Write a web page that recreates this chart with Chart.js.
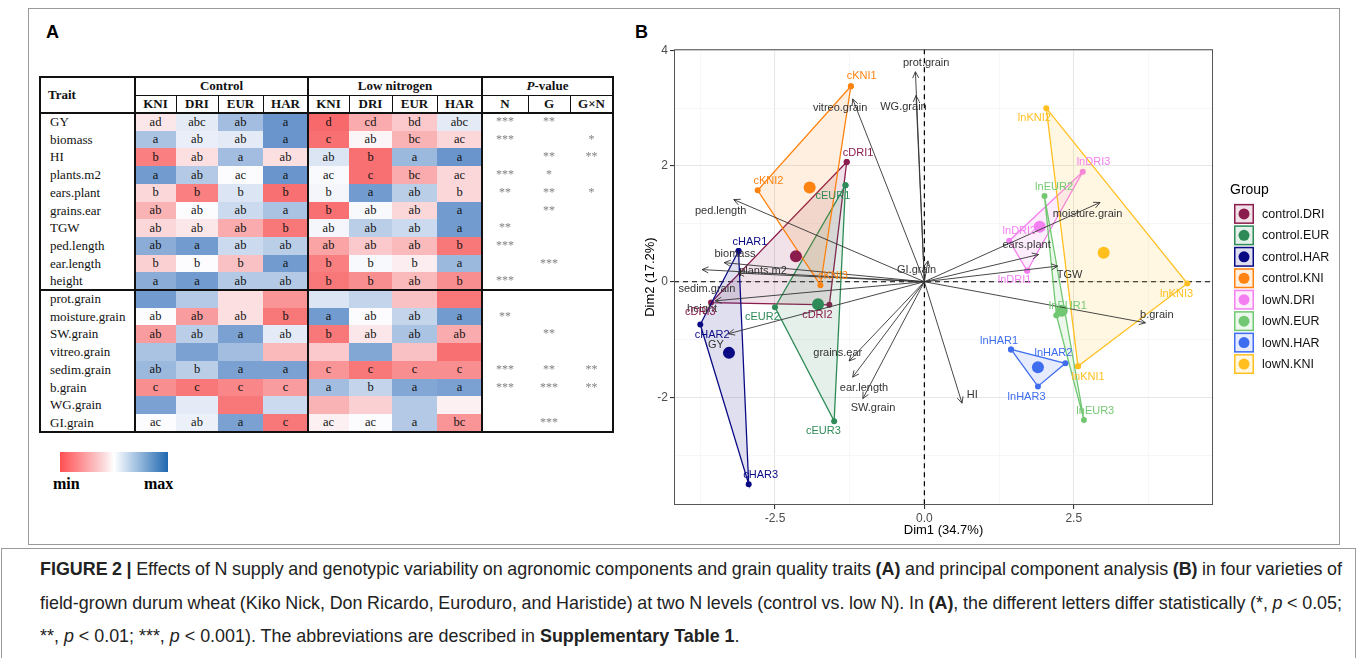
<!DOCTYPE html>
<html><head><meta charset="utf-8">
<script src="https://cdn.jsdelivr.net/npm/chart.js@4.4.1/dist/chart.umd.min.js"></script>
<style>
body{margin:0;width:1360px;height:658px;position:relative;background:#fff;overflow:hidden;font-family:"Liberation Sans",Arial,sans-serif}
.abs{position:absolute}
#frame{position:absolute;left:28px;top:8px;width:1312px;height:537px;border:1px solid #9a9a9a;box-sizing:border-box}
#capbox{position:absolute;left:1px;top:548px;width:1355px;height:115px;border:1px solid #9a9a9a;border-bottom:none;box-sizing:border-box}
.plabel{position:absolute;font:bold 18px "Liberation Sans",Arial,sans-serif;color:#000}
#tbl{position:absolute;left:0;top:0;font-family:"Liberation Serif","Times New Roman",serif;color:#111}
.cell{position:absolute;display:flex;align-items:center;justify-content:center;font-size:12.5px}
.hd{font-weight:bold;font-size:13px}
.tr{position:absolute;font-size:13px;line-height:17.7px}
.ln{position:absolute;background:#111}
.star{color:#808080;font-size:12px;will-change:transform}
#cap{position:absolute;left:40px;top:557px;width:1302px;font-size:17.9px;color:#222}
#cap div{height:33.5px;line-height:24px;white-space:nowrap}
#cap span.j{display:inline-block;white-space:nowrap}
#pca{position:absolute;left:630px;top:40px}
</style></head><body>
<div id="frame"></div>
<div id="capbox"></div>
<div class="plabel" style="left:46px;top:22px">A</div>
<div class="plabel" style="left:635px;top:22px">B</div>
<div id="tbl"></div>
<div class="abs" style="left:60px;top:452px;width:108px;height:20px;background:linear-gradient(to right,#ff4f52 0%,#fbd0d2 38%,#ffffff 50%,#c9dcef 62%,#2068b0 100%)"></div>
<div class="abs" style="left:53px;top:475px;font:bold 16px 'Liberation Serif',serif">min</div>
<div class="abs" style="left:144px;top:475px;font:bold 16px 'Liberation Serif',serif">max</div>
<canvas id="pca" width="730" height="505"></canvas>
<div id="cap">
<div><span class="j"><b>FIGURE 2 |</b> Effects of N supply and genotypic variability on agronomic components and grain quality traits <b>(A)</b> and principal component analysis <b>(B)</b> in four varieties of</span></div>
<div><span class="j">field-grown durum wheat (Kiko Nick, Don Ricardo, Euroduro, and Haristide) at two N levels (control vs. low N). In <b>(A)</b>, the different letters differ statistically (*, <i>p</i> &lt; 0.05;</span></div>
<div>**, <i>p</i> &lt; 0.01; ***, <i>p</i> &lt; 0.001). The abbreviations are described in <b>Supplementary Table 1</b>.</div>
</div>
<script>
// justify caption lines to the caption width
document.querySelectorAll('#cap span.j').forEach(s=>{
  const n=(s.textContent.match(/ /g)||[]).length; const w=s.getBoundingClientRect().width;
  s.style.wordSpacing=((1302-w)/n)+'px';
});
// ---------------- Panel A data ----------------
const traits = ['GY','biomass','HI','plants.m2','ears.plant','grains.ear','TGW','ped.length','ear.length','height',
  'prot.grain','moisture.grain','SW.grain','vitreo.grain','sedim.grain','b.grain','WG.grain','GI.grain'];
const genotypes = ['KNI','DRI','EUR','HAR'];
const controlLetters = [
  ['ad','abc','ab','a'],['a','ab','ab','a'],['b','ab','a','ab'],['a','ab','ac','a'],['b','b','b','b'],
  ['ab','ab','ab','a'],['ab','ab','ab','b'],['ab','a','ab','ab'],['b','b','b','a'],['a','a','ab','ab'],
  ['','','',''],['ab','ab','ab','b'],['ab','ab','a','ab'],['','','',''],['ab','b','a','a'],['c','c','c','c'],
  ['','','',''],['ac','ab','a','c']];
const lowNLetters = [
  ['d','cd','bd','abc'],['c','ab','bc','ac'],['ab','b','a','a'],['ac','c','bc','ac'],['b','a','ab','b'],
  ['b','ab','ab','a'],['ab','ab','ab','a'],['ab','ab','ab','b'],['b','b','b','a'],['b','b','ab','b'],
  ['','','',''],['a','ab','ab','a'],['b','ab','ab','ab'],['','','',''],['c','c','c','c'],['a','b','a','a'],
  ['','','',''],['ac','ac','a','bc']];
// relative position of each cell within its row colour scale: -1 = min (red), 0 = median (white), 1 = max (blue)
const controlScore = [
  [-0.15,0.15,0.55,0.9],[0.5,0.12,0.15,0.9],[-0.85,-0.2,0.55,-0.2],[0.85,0.45,0.0,0.9],[-0.25,-0.85,0.2,-0.95],
  [-0.5,0.0,0.3,0.5],[-0.25,-0.15,-0.55,-0.9],[0.7,0.85,0.3,0.4],[-0.3,0.0,-0.4,0.85],[0.7,0.85,0.45,0.45],
  [0.85,0.45,-0.2,-0.7],[0.0,-0.65,-0.2,-0.9],[-0.65,0.4,0.8,0.15],[0.5,0.8,0.55,-0.45],[0.6,0.4,0.8,0.8],
  [-0.75,-0.9,-0.8,-0.65],[0.8,0.15,-0.9,0.3],[0.0,0.1,0.8,-0.9]];
const lowNScore = [
  [-1,-0.55,-0.35,0.15],[-0.95,-0.05,-0.5,-0.25],[0.2,-0.95,0.6,0.9],[0.02,-0.95,-0.55,-0.25],[0.05,0.85,0.4,-0.25],
  [-0.95,0.03,-0.25,0.85],[0.05,0.4,0.3,0.85],[-0.6,-0.35,-0.45,-0.9],[-0.85,0.03,-0.1,0.6],[-0.9,-0.75,-0.45,-0.75],
  [0.2,0.35,-0.4,-0.9],[0.85,0.0,0.35,0.85],[-0.9,-0.15,0.5,-0.55],[-0.35,0.75,-0.4,-0.95],[-0.7,-0.9,-0.75,-0.75],
  [0.55,0.35,0.75,0.8],[-0.5,-0.3,0.45,-0.08],[-0.08,0.0,0.45,-0.7]];
const pN   = ['***','***','','***','**','','**','***','','***','','**','','','***','***','',''];
const pG   = ['**','','**','*','**','**','','','***','','','','**','','**','***','','***'];
const pGxN = ['','*','**','','*','','','','','','','','','','**','**','',''];

// ---------------- Panel B data ----------------
const groups = ['control.DRI','control.EUR','control.HAR','control.KNI','lowN.DRI','lowN.EUR','lowN.HAR','lowN.KNI'];
const sampleNames = [['cDRI1','cDRI2','cDRI3'],['cEUR1','cEUR2','cEUR3'],['cHAR1','cHAR2','cHAR3'],['cKNI1','cKNI2','cKNI3'],
  ['lnDRI1','lnDRI2','lnDRI3'],['lnEUR1','lnEUR2','lnEUR3'],['lnHAR1','lnHAR2','lnHAR3'],['lnKNI1','lnKNI2','lnKNI3']];
const sampleDim1 = [[-1.30,-1.59,-3.57],[-1.32,-2.50,-1.51],[-3.11,-3.75,-2.94],[-1.23,-2.79,-1.74],
  [1.72,1.42,2.65],[2.21,2.01,2.67],[1.45,2.36,1.90],[2.57,2.04,4.40]];
const sampleDim2 = [[2.07,-0.40,-0.36],[1.67,-0.44,-2.41],[0.53,-0.74,-3.50],[3.38,1.58,-0.06],
  [0.19,0.71,1.90],[-0.58,1.48,-2.39],[-1.17,-1.41,-1.81],[-1.46,3.00,-0.03]];
const centroidDim1 = [-2.15,-1.78,-3.27,-1.92,1.93,2.30,1.90,3.00];
const centroidDim2 = [0.44,-0.39,-1.23,1.63,0.95,-0.50,-1.48,0.50];
const traitDim1 = [-0.15,-0.14,-1.20,-3.19,-3.35,-3.12,0.06,-3.72,-3.50,-3.28,-1.26,-1.20,-1.03,0.63,3.70,2.23,1.91,2.94];
const traitDim2 = [3.63,3.22,3.16,1.42,0.33,0.15,0.36,0.21,-0.33,-0.90,-1.37,-1.65,-2.02,-2.10,-0.71,0.27,0.47,1.37];
const traitNames = ['prot.grain','WG.grain','vitreo.grain','ped.length','biomass','plants.m2','GI.grain','sedim.grain','height',
  'GY','grains.ear','ear.length','SW.grain','HI','b.grain','TGW','ears.plant','moisture.grain'];
const xTickValues = [-3.75,-2.5,-1.25,0,1.25,2.5,3.75];
const xTickLabels = {'-2.5':'-2.5','0':'0.0','2.5':'2.5'};
const yTickValues = [-3,-2,-1,0,1,2,3,4];
const yTickLabels = {'-2':'-2','0':'0','2':'2','4':'4'};
// label anchor positions (layout, in data units)
const sampleLabelDim1 = [[-1.11,-1.79,-3.75],[-1.53,-2.71,-1.69],[-2.92,-3.55,-2.74],[-1.05,-2.61,-1.53],
  [1.51,1.59,2.83],[2.40,2.17,2.86],[1.25,2.16,1.71],[2.74,1.84,4.22]];
const sampleLabelDim2 = [[2.23,-0.57,-0.52],[1.49,-0.61,-2.58],[0.68,-0.92,-3.34],[3.55,1.74,0.10],
  [0.03,0.87,2.07],[-0.42,1.64,-2.24],[-1.02,-1.24,-1.99],[-1.64,2.83,-0.21]];
const traitLabelDim1 = [0.03,-0.35,-1.41,-3.41,-3.17,-2.70,-0.13,-3.64,-3.72,-3.49,-1.45,-1.01,-0.86,0.80,3.89,2.43,1.71,2.73];
const traitLabelDim2 = [3.79,3.02,3.00,1.23,0.48,0.18,0.20,-0.13,-0.47,-1.10,-1.24,-1.83,-2.19,-1.95,-0.58,0.11,0.63,1.18];

// styles
const groupColors = ['#8A1C4E','#2E8B57','#0A0A85','#FF8311','#F47FF1','#72C872','#3F6DF0','#FFBF1F'];

// ---------------- Build table ----------------
const T = document.getElementById('tbl');
const colX = [40,135,176,218,263,308,349,392,437,482,528,570,613];
const top0 = 77, hRow1 = 95, hBot = 113, rowH = 17.7;
function heat(v){const w=[252,252,255],r=[248,105,107],b=[90,138,198];const c=v<0?r:b,t=Math.abs(v);
  return 'rgb('+w.map((a,k)=>Math.round(a+(c[k]-a)*t)).join(',')+')';}
function add(cls,l,t,w,h,html,style){const d=document.createElement('div');d.className=cls;d.style.left=l+'px';d.style.top=t+'px';
  d.style.width=w+'px';d.style.height=h+'px';if(html!==undefined)d.innerHTML=html;if(style)d.style.cssText+=style;T.appendChild(d);return d;}
traits.forEach((tr,i)=>{
  const y = hBot + i*rowH;
  add('tr',50,y,85,rowH,tr);
  for(let g=0;g<4;g++){
    add('cell',colX[1+g],y,colX[2+g]-colX[1+g],rowH+0.5,controlLetters[i][g],'background:'+heat(controlScore[i][g]));
    add('cell',colX[5+g],y,colX[6+g]-colX[5+g],rowH+0.5,lowNLetters[i][g],'background:'+heat(lowNScore[i][g]));
  }
  add('cell star',colX[9],y,colX[10]-colX[9],rowH,pN[i]);
  add('cell star',colX[10],y,colX[11]-colX[10],rowH,pG[i]);
  add('cell star',colX[11],y,colX[12]-colX[11],rowH,pGxN[i]);
});
add('cell hd',48,top0,60,hBot-top0,'Trait','justify-content:flex-start');
add('cell hd',colX[1],top0,colX[5]-colX[1],hRow1-top0,'Control');
add('cell hd',colX[5],top0,colX[9]-colX[5],hRow1-top0,'Low nitrogen');
add('cell hd',colX[9],top0,colX[12]-colX[9],hRow1-top0,'<i>P</i>-value');
const sub=[...genotypes,...genotypes,'N','G','G×N'];
sub.forEach((s,k)=>add('cell hd',colX[1+k],hRow1,colX[2+k]-colX[1+k],hBot-hRow1,s));
const bot = hBot + traits.length*rowH;
// lines
add('ln',colX[0]-1,top0-1,colX[12]-colX[0]+2,2);
add('ln',colX[0]-1,bot-1,colX[12]-colX[0]+2,2);
add('ln',colX[0]-1,top0-1,2,bot-top0+2);
add('ln',colX[12]-1,top0-1,2,bot-top0+2);
[1,5,9].forEach(k=>add('ln',colX[k]-1,top0,2,bot-top0));
add('ln',colX[0],hBot-1,colX[12]-colX[0],2);
add('ln',colX[0],hBot+10*rowH-1,colX[12]-colX[0],2);
add('ln',colX[1],hRow1-0.5,colX[12]-colX[1],1);
[2,3,4,6,7,8,10,11].forEach(k=>add('ln',colX[k]-0.5,hRow1,1,hBot-hRow1));

// ---------------- PCA chart ----------------
function rgba(hex,a){const n=parseInt(hex.slice(1),16);return `rgba(${n>>16},${(n>>8)&255},${n&255},${a})`;}
const datasets=[];
groups.forEach((g,i)=>{
  const pts=sampleDim1[i].map((x,j)=>({x,y:sampleDim2[i][j]}));
  datasets.push({label:g,data:[...pts,pts[0]],showLine:true,fill:'shape',backgroundColor:rgba(groupColors[i],0.13),
    borderColor:groupColors[i],borderWidth:1.3,pointRadius:3,pointBackgroundColor:groupColors[i],pointBorderWidth:0,order:20-i});
});
groups.forEach((g,i)=>{
  datasets.push({label:g+' mean',data:[{x:centroidDim1[i],y:centroidDim2[i]}],pointRadius:6,backgroundColor:groupColors[i],
    borderWidth:0,showLine:false,order:1});
});
function arrow(ctx,x0,y0,x1,y1){
  ctx.beginPath();ctx.moveTo(x0,y0);ctx.lineTo(x1,y1);ctx.stroke();
  const a=Math.atan2(y1-y0,x1-x0),L=7,s=0.45;
  ctx.beginPath();ctx.moveTo(x1-L*Math.cos(a-s),y1-L*Math.sin(a-s));ctx.lineTo(x1,y1);
  ctx.lineTo(x1-L*Math.cos(a+s),y1-L*Math.sin(a+s));ctx.stroke();
}
const pcaPlugin={id:'pcaExtras',
  beforeDatasetsDraw(chart){
    const {ctx,chartArea:ca,scales:{x,y}}=chart;
    ctx.save();ctx.strokeStyle='#000';ctx.lineWidth=1.2;ctx.setLineDash([5,4]);
    const x0=x.getPixelForValue(0),y0=y.getPixelForValue(0);
    ctx.beginPath();ctx.moveTo(x0,ca.top);ctx.lineTo(x0,ca.bottom);ctx.moveTo(ca.left,y0);ctx.lineTo(ca.right,y0);ctx.stroke();
    ctx.restore();
  },
  afterDatasetsDraw(chart){
    const {ctx,scales:{x,y}}=chart;
    ctx.save();
    const ox=x.getPixelForValue(0),oy=y.getPixelForValue(0);
    ctx.strokeStyle='#333';ctx.lineWidth=0.9;
    traitNames.forEach((t,i)=>arrow(ctx,ox,oy,x.getPixelForValue(traitDim1[i]),y.getPixelForValue(traitDim2[i])));
    ctx.font='11px "Liberation Sans",Arial,sans-serif';ctx.textAlign='center';ctx.textBaseline='middle';
    ctx.fillStyle='#333';
    traitNames.forEach((t,i)=>ctx.fillText(t,x.getPixelForValue(traitLabelDim1[i]),y.getPixelForValue(traitLabelDim2[i])));
    groups.forEach((g,i)=>{ctx.fillStyle=groupColors[i];
      sampleNames[i].forEach((n,j)=>ctx.fillText(n,x.getPixelForValue(sampleLabelDim1[i][j]),y.getPixelForValue(sampleLabelDim2[i][j])));});
    ctx.restore();
  },
  afterDraw(chart){
    const {ctx,chartArea:ca}=chart;
    ctx.save();ctx.strokeStyle='#555';ctx.lineWidth=1;ctx.strokeRect(ca.left+0.5,ca.top+0.5,ca.right-ca.left-1,ca.bottom-ca.top-1);
    // legend
    const lx=ca.right+21,ty=ca.top;
    ctx.fillStyle='#000';ctx.font='14px "Liberation Sans",Arial,sans-serif';ctx.textBaseline='middle';ctx.textAlign='left';
    ctx.fillText('Group',ca.right+17,ty+141);
    groups.forEach((g,i)=>{
      const cy=ty+164.7+i*21.45;
      ctx.fillStyle=rgba(groupColors[i],0.13);ctx.fillRect(lx,cy-10,20,20);
      ctx.strokeStyle=groupColors[i];ctx.lineWidth=1.5;ctx.strokeRect(lx+0.75,cy-9.25,18.5,18.5);
      ctx.fillStyle=groupColors[i];ctx.beginPath();ctx.arc(lx+10,cy,5.5,0,2*Math.PI);ctx.fill();
      ctx.fillStyle='#111';ctx.font='12.5px "Liberation Sans",Arial,sans-serif';ctx.fillText(g,lx+28,cy+0.5);
    });
    ctx.restore();
  }};
new Chart(document.getElementById('pca'),{
  type:'scatter',data:{datasets},
  options:{responsive:false,animation:false,
    layout:{padding:{top:7,right:147,left:0,bottom:0}},
    plugins:{legend:{display:false},tooltip:{enabled:false}},
    scales:{
      x:{type:'linear',min:-4.19,max:4.83,
        afterBuildTicks(s){s.ticks=xTickValues.map(v=>({value:v}));},
        afterFit(s){s.height=40;},
        border:{display:false},
        grid:{color:c=>(c.tick&&xTickLabels[String(c.tick.value)]!==undefined)?'#e6e6e6':'#f2f2f2',lineWidth:c=>(c.tick&&xTickLabels[String(c.tick.value)]!==undefined)?1.1:0.6,
          tickLength:4,tickColor:c=>(c.tick&&xTickLabels[String(c.tick.value)]!==undefined)?'#333':'rgba(0,0,0,0)'},
        ticks:{autoSkip:false,maxRotation:0,padding:2,color:'#4d4d4d',font:{size:12,family:'"Liberation Sans",Arial,sans-serif'},
          callback:v=>xTickLabels[String(v)]??''},
        title:{display:true,text:'Dim1 (34.7%)',color:'#000',font:{size:13,family:'"Liberation Sans",Arial,sans-serif'},padding:{top:0,bottom:7}}
      },
      y:{type:'linear',min:-3.86,max:4.02,
        afterBuildTicks(s){s.ticks=yTickValues.map(v=>({value:v}));},
        afterFit(s){s.width=44;},
        border:{display:false},
        grid:{color:c=>(c.tick&&yTickLabels[String(c.tick.value)]!==undefined)?'#e6e6e6':'#f2f2f2',lineWidth:c=>(c.tick&&yTickLabels[String(c.tick.value)]!==undefined)?1.1:0.6,
          tickLength:4,tickColor:c=>(c.tick&&yTickLabels[String(c.tick.value)]!==undefined)?'#333':'rgba(0,0,0,0)'},
        ticks:{autoSkip:false,padding:2,color:'#4d4d4d',font:{size:12,family:'"Liberation Sans",Arial,sans-serif'},
          callback:v=>yTickLabels[String(v)]??''},
        title:{display:true,text:'Dim2 (17.2%)',color:'#000',font:{size:13,family:'"Liberation Sans",Arial,sans-serif'},padding:{top:13,bottom:0}}
      }
    }
  },
  plugins:[pcaPlugin]
});
</script>
</body></html>
